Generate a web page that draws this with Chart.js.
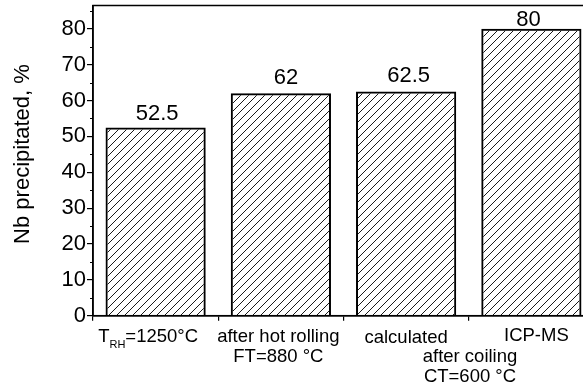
<!DOCTYPE html>
<html>
<head>
<meta charset="utf-8">
<script src="https://cdn.jsdelivr.net/npm/chart.js@4"></script>
<style>
  html, body { margin: 0; padding: 0; background: #fff; overflow: hidden; width: 583px; height: 389px; }
  canvas { display: block; }
</style>
</head>
<body>
<canvas id="c" width="594" height="389"></canvas>
<script>
// Share of niobium found as precipitates at each processing stage
const categories = ['T_RH=1250°C', 'after hot rolling', 'calculated', 'ICP-MS'];
const precipitated = [52.5, 62, 62.5, 80];
const valueLabels = ['52.5', '62', '62.5', '80'];
const yTickValues = [0, 10, 20, 30, 40, 50, 60, 70, 80];
const yMinorValues = [5, 15, 25, 35, 45, 55, 65, 75, 85];

const FONT = '"Liberation Sans", Arial, Helvetica, sans-serif';

// hand-tuned nudges for the value annotations (px)
const labelNudge = [[1.5, 7], [5, 9], [2.5, 10], [-3, 3]];

// diagonal "/" hatch used as bar fill
function hatch() {
  const s = 8;
  const p = document.createElement('canvas');
  p.width = s; p.height = s;
  const g = p.getContext('2d');
  g.strokeStyle = '#1a1a1a';
  g.lineWidth = 1;
  g.beginPath();
  g.moveTo(0, s); g.lineTo(s, 0);
  g.moveTo(-s / 2, s / 2); g.lineTo(s / 2, -s / 2);
  g.moveTo(s / 2, s + s / 2); g.lineTo(s + s / 2, s / 2);
  g.stroke();
  return g.createPattern(p, 'repeat');
}

const ctx = document.getElementById('c').getContext('2d');

// frame, minor ticks, value labels, axis title and category captions
const decor = {
  id: 'decor',
  afterDraw(chart) {
    const { ctx, chartArea: a, scales: { x, y } } = chart;
    ctx.save();
    ctx.strokeStyle = '#000';
    ctx.lineWidth = 1.5;
    ctx.strokeRect(a.left, a.top, a.right - a.left, a.bottom - a.top);

    // minor y ticks
    ctx.lineWidth = 1.2;
    ctx.beginPath();
    yMinorValues.forEach(v => {
      const py = Math.round(y.getPixelForValue(v)) + 0.5;
      ctx.moveTo(a.left - 3, py); ctx.lineTo(a.left, py);
    });
    ctx.stroke();

    // values above bars
    ctx.fillStyle = '#000';
    ctx.font = '22px ' + FONT;
    ctx.textAlign = 'center';
    ctx.textBaseline = 'alphabetic';
    const meta = chart.getDatasetMeta(0);
    meta.data.forEach((bar, i) => {
      const [dx, gap] = labelNudge[i];
      ctx.fillText(valueLabels[i], bar.x + dx, bar.y - gap);
    });

    // y axis title
    ctx.save();
    ctx.translate(23, 154);
    ctx.rotate(-Math.PI / 2);
    ctx.textBaseline = 'middle';
    ctx.font = '22px ' + FONT;
    ctx.fillText('Nb precipitated, %', 0, 0);
    ctx.restore();

    // category captions
    ctx.font = '18.5px ' + FONT;
    ctx.textBaseline = 'middle';
    const row = r => a.bottom + 21 + r * 20;
    // T_RH=1250°C with subscript
    {
      const cx = x.getPixelForValue(-0.06);
      ctx.font = '18.5px ' + FONT;
      const wT = ctx.measureText('T').width;
      const wRest = ctx.measureText('=1250°C').width;
      ctx.font = '11px ' + FONT;
      const wSub = ctx.measureText('RH').width;
      let px = cx - (wT + wSub + wRest) / 2;
      ctx.textAlign = 'left';
      ctx.font = '18.5px ' + FONT;
      ctx.fillText('T', px, row(0)); px += wT;
      ctx.font = '11px ' + FONT;
      ctx.fillText('RH', px, row(0) + 8); px += wSub;
      ctx.font = '18.5px ' + FONT;
      ctx.fillText('=1250°C', px, row(0));
    }
    ctx.textAlign = 'center';
    ctx.fillText('after hot rolling', x.getPixelForValue(0.98), row(0));
    ctx.fillText('FT=880 °C', x.getPixelForValue(0.98), row(1));
    ctx.fillText('calculated', x.getPixelForValue(2.0), row(0) + 1);
    ctx.fillText('after coiling', x.getPixelForValue(2.51), row(1));
    ctx.fillText('CT=600 °C', x.getPixelForValue(2.51), row(2));
    ctx.fillText('ICP-MS', x.getPixelForValue(3.04), row(0) - 1);
    ctx.restore();
  }
};

new Chart(ctx, {
  type: 'bar',
  data: {
    labels: categories,
    datasets: [{
      data: precipitated,
      backgroundColor: hatch(),
      borderColor: '#000',
      borderWidth: 2,
      borderSkipped: 'start',
      barPercentage: 0.8,
      categoryPercentage: 1.0
    }]
  },
  options: {
    responsive: false,
    devicePixelRatio: 1,
    animation: false,
    layout: { padding: { top: 5.5, right: 0, bottom: 0, left: 0 } },
    plugins: { legend: { display: false }, tooltip: { enabled: false } },
    scales: {
      x: {
        grid: { drawOnChartArea: false, drawTicks: true, tickLength: 5, color: '#000', lineWidth: 1.2, offset: true },
        border: { color: '#000', width: 1.5 },
        ticks: { display: false },
        afterFit(s) { s.height = 73.3; s.paddingLeft = 0; s.paddingRight = 0; }
      },
      y: {
        min: 0,
        max: 86.5,
        afterBuildTicks(s) { s.ticks = yTickValues.map(v => ({ value: v })); },
        grid: { drawOnChartArea: false, drawTicks: true, tickLength: 6, color: '#000', lineWidth: 1.2 },
        border: { color: '#000', width: 1.5 },
        ticks: { color: '#000', padding: 1, font: { family: FONT, size: 22 } },
        afterFit(s) { s.width = 93; s.paddingTop = 0; s.paddingBottom = 0; }
      }
    }
  },
  plugins: [decor]
});
</script>
</body>
</html>
